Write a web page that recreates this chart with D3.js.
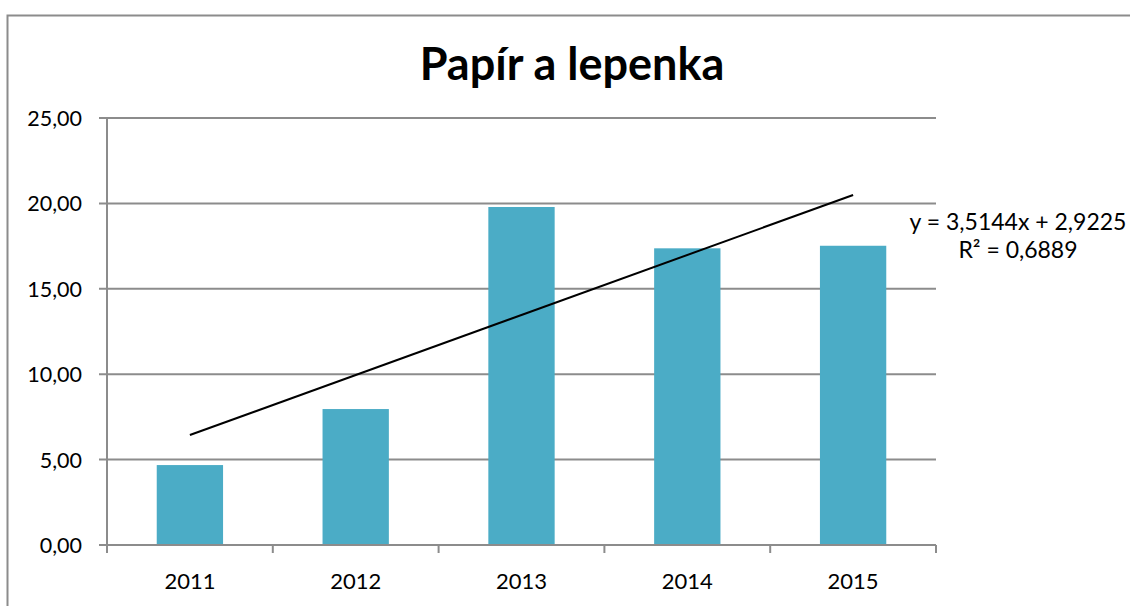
<!DOCTYPE html>
<html>
<head>
<meta charset="utf-8">
<script src="https://cdn.jsdelivr.net/npm/d3@7"></script>
<style>
  body { margin: 0; background: #fff; }
  svg { display: block; font-family: Lato, "Open Sans", sans-serif; }
</style>
</head>
<body>
<svg id="chart" width="1130" height="606"></svg>
<script>
// data
var years = ["2011", "2012", "2013", "2014", "2015"];
var values = [4.68, 7.96, 19.79, 17.37, 17.52];
var yTicks = [0, 5, 10, 15, 20, 25];
var trend = { slope: 3.5144, intercept: 2.9225 };
var trendLabels = ["y = 3,5144x + 2,9225", "R² = 0,6889"];

var svg = d3.select("#chart");
var margin = { left: 107, right: 194, top: 118, bottom: 61 };
var W = 1130, H = 606;

// outer chart frame (runs past the right/bottom edges)
svg.append("rect")
    .attr("x", 7.5).attr("y", 15.5)
    .attr("width", 1200).attr("height", 700)
    .attr("fill", "none").attr("stroke", "#8c8c8c").attr("stroke-width", 2);

var x = d3.scaleBand()
    .domain(years)
    .range([margin.left, W - margin.right])
    .paddingInner(0.6).paddingOuter(0.3);

var y = d3.scaleLinear()
    .domain([0, 25])
    .range([H - margin.bottom, margin.top]);

var fmt = function (d) { return d3.format(".2f")(d).replace(".", ","); };

// gridlines
svg.append("g").classed("grid", true)
    .selectAll("line")
    .data(yTicks)
    .join("line")
    .attr("x1", margin.left - 8)
    .attr("x2", W - margin.right)
    .attr("y1", function (d) { return y(d); })
    .attr("y2", function (d) { return y(d); })
    .attr("stroke", "#8c8c8c").attr("stroke-width", 2);

// y axis line
svg.append("line")
    .attr("x1", margin.left).attr("x2", margin.left)
    .attr("y1", y(25)).attr("y2", y(0))
    .attr("stroke", "#8c8c8c").attr("stroke-width", 2);

// y tick labels
svg.append("g").classed("y-labels", true)
    .selectAll("text")
    .data(yTicks)
    .join("text")
    .attr("x", 82)
    .attr("y", function (d) { return y(d) + 8; })
    .attr("text-anchor", "end")
    .attr("font-size", 21.5)
    .attr("fill", "#000")
    .text(fmt);

// bars
svg.append("g").classed("bars", true)
    .selectAll("rect")
    .data(values)
    .join("rect")
    .attr("x", function (d, i) { return x(years[i]); })
    .attr("width", x.bandwidth())
    .attr("y", function (d) { return y(d); })
    .attr("height", function (d) { return y(0) - y(d); })
    .attr("fill", "#4bacc6");

// x axis line + tick marks between categories
var x0 = margin.left, x1 = W - margin.right;
svg.append("line")
    .attr("x1", x0).attr("x2", x1)
    .attr("y1", y(0)).attr("y2", y(0))
    .attr("stroke", "#8c8c8c").attr("stroke-width", 2);
svg.append("g").classed("x-ticks", true)
    .selectAll("line")
    .data(d3.range(years.length + 1))
    .join("line")
    .attr("x1", function (i) { return x0 + i * (x1 - x0) / years.length; })
    .attr("x2", function (i) { return x0 + i * (x1 - x0) / years.length; })
    .attr("y1", y(0)).attr("y2", y(0) + 8)
    .attr("stroke", "#8c8c8c").attr("stroke-width", 2);

// x labels
svg.append("g").classed("x-labels", true)
    .selectAll("text")
    .data(years)
    .join("text")
    .attr("x", function (d) { return x(d) + x.bandwidth() / 2; })
    .attr("y", 589)
    .attr("text-anchor", "middle")
    .attr("font-size", 22)
    .attr("fill", "#000")
    .text(function (d) { return d; });

// linear trendline (x = 1..n)
var first = 1, last = years.length;
svg.append("line")
    .attr("x1", x(years[0]) + x.bandwidth() / 2)
    .attr("y1", y(trend.slope * first + trend.intercept))
    .attr("x2", x(years[last - 1]) + x.bandwidth() / 2)
    .attr("y2", y(trend.slope * last + trend.intercept))
    .attr("stroke", "#000").attr("stroke-width", 2);

// trendline equation
svg.append("g").classed("trend-label", true)
    .selectAll("text")
    .data(trendLabels)
    .join("text")
    .attr("x", 1018)
    .attr("y", function (d, i) { return 230 + i * 28; })
    .attr("text-anchor", "middle")
    .attr("font-size", 23)
    .attr("fill", "#000")
    .text(function (d) { return d; });

// title
svg.append("text")
    .attr("x", 572).attr("y", 80)
    .attr("text-anchor", "middle")
    .attr("font-size", 45)
    .attr("font-weight", "bold")
    .attr("fill", "#000")
    .text("Papír a lepenka");
</script>
</body>
</html>
